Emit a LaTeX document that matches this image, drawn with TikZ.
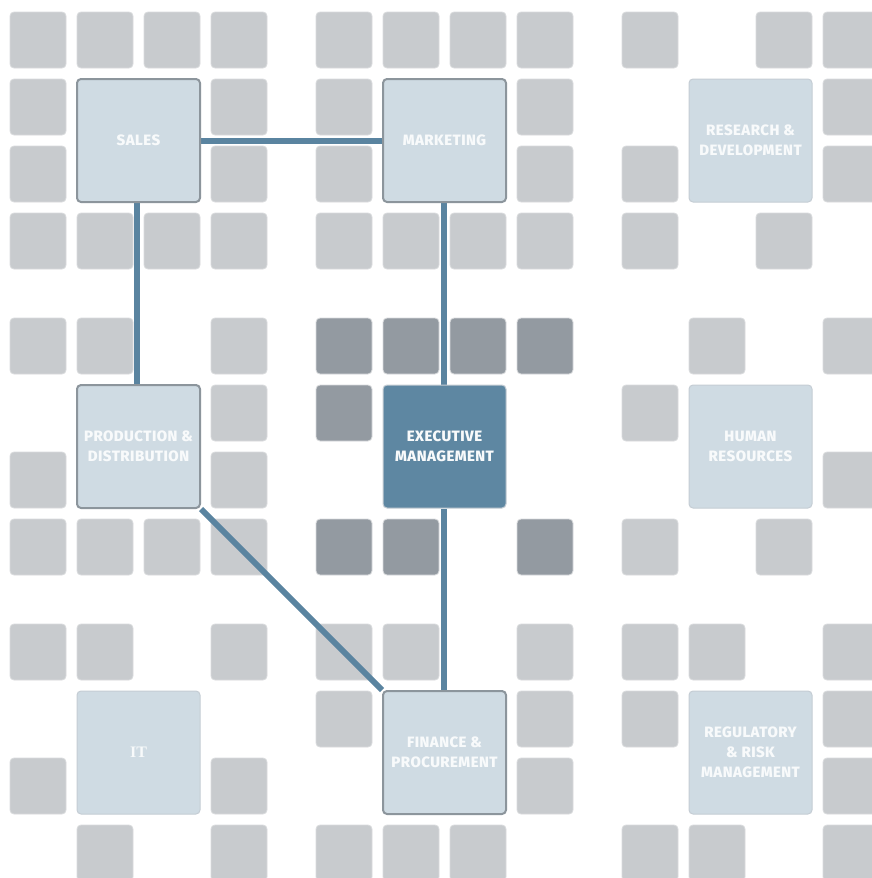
\documentclass[tikz,border=0pt]{standalone}
\usepackage{fontspec}
\newfontfamily\lblfont{Fira Sans ExtraBold}[LetterSpace=3]
\newfontfamily\itfont{Liberation Serif}
\definecolor{sq}{HTML}{C8CBCE}
\definecolor{sqedge}{HTML}{D9DBDD}
\definecolor{dsq}{HTML}{939AA1}
\definecolor{boxfill}{HTML}{CFDBE3}
\definecolor{boxedge}{HTML}{8C959C}
\definecolor{boxedgelight}{HTML}{C5CDD4}
\definecolor{execfill}{HTML}{5E87A2}
\definecolor{linkcol}{HTML}{5A84A0}
\definecolor{txt}{HTML}{F8FAFB}
\pgfdeclarelayer{bg}
\pgfsetlayers{bg,main}
\tikzset{
  cell/.style={fill=sq, draw=sqedge, line width=0.8pt, rounded corners=4pt},
  darkcell/.style={fill=dsq, draw=sqedge, line width=0.8pt, rounded corners=4pt},
  dept/.style={rectangle, minimum width=123pt, minimum height=123pt, inner sep=0pt,
    rounded corners=4pt, fill=boxfill, align=center, text=txt,
    font=\lblfont\fontsize{15}{20}\selectfont},
  linked/.style={draw=boxedge, line width=2pt},
  unlinked/.style={draw=boxedgelight, line width=1pt},
  execbox/.style={fill=execfill, draw=boxedgelight, line width=1pt},
  link/.style={draw=linkcol, line width=6pt}
}
\begin{document}
\begin{tikzpicture}[x=1pt,y=-1pt]
\useasboundingbox (0,0) rectangle (872,878);
\begin{pgfonlayer}{bg}
\fill[white] (0,0) rectangle (872,878);
\foreach \c/\r in {0/0,1/0,2/0,3/0,0/1,3/1,0/2,3/2,0/3,1/3,2/3,3/3,
  4/0,5/0,6/0,7/0,4/1,7/1,4/2,7/2,4/3,5/3,6/3,7/3,
  8/0,10/0,11/0,11/1,8/2,11/2,8/3,10/3,
  0/4,1/4,3/4,3/5,0/6,3/6,0/7,1/7,2/7,3/7,
  9/4,11/4,8/5,11/6,8/7,10/7,
  0/8,1/8,3/8,0/10,3/10,1/11,3/11,
  4/8,5/8,7/8,4/9,7/9,7/10,4/11,5/11,6/11,
  8/8,9/8,11/8,8/9,11/9,11/10,8/11,9/11,11/11}{
  \pgfmathsetmacro\xx{10+306*int(\c/4)+67*mod(\c,4)}
  \pgfmathsetmacro\yy{12+306*int(\r/4)+67*mod(\r,4)}
  \path[cell] (\xx,\yy) rectangle ++(56,56);
}
\foreach \c/\r in {4/4,5/4,6/4,7/4,4/5,4/7,5/7,7/7}{
  \pgfmathsetmacro\xx{10+306*int(\c/4)+67*mod(\c,4)}
  \pgfmathsetmacro\yy{12+306*int(\r/4)+67*mod(\r,4)}
  \path[darkcell] (\xx,\yy) rectangle ++(56,56);
}
\end{pgfonlayer}

\node[dept, linked] (sales) at (138.5,140.5) {SALES};
\node[dept, linked] (mkt) at (444.5,140.5) {MARKETING};
\node[dept, unlinked] (rd) at (750.5,140.5) {RESEARCH \&\\DEVELOPMENT};
\node[dept, linked] (prod) at (138.5,446.5) {PRODUCTION \&\\DISTRIBUTION};
\node[dept, execbox] (exec) at (444.5,446.5) {EXECUTIVE\\MANAGEMENT};
\node[dept, unlinked] (hr) at (750.5,446.5) {HUMAN\\RESOURCES};
\node[dept, unlinked, font=\itfont\bfseries\fontsize{16}{20}\selectfont] (it) at (138.5,752.5) {IT};
\node[dept, linked] (fin) at (444.5,752.5) {FINANCE \&\\PROCUREMENT};
\node[dept, unlinked] (reg) at (750.5,752.5) {REGULATORY\\\& RISK\\MANAGEMENT};

\begin{pgfonlayer}{bg}
\draw[link] (sales) -- (mkt);
\draw[link] ([xshift=-1.5pt]sales.south) -- ([xshift=-1.5pt]prod.north);
\draw[link] ([xshift=-0.5pt]mkt.south) -- ([xshift=-0.5pt]exec.north);
\draw[link] ([xshift=-0.5pt]exec.south) -- ([xshift=-0.5pt]fin.north);
\draw[link] (prod.south east) -- (fin.north west);
\end{pgfonlayer}
\end{tikzpicture}
\end{document}
